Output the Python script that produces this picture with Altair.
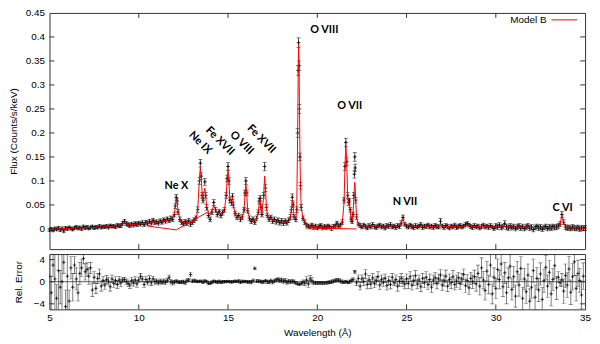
import altair as alt
import pandas as pd

# ---------------- top panel: flux spectrum (data + model) ----------------
WL_A = [5.0, 5.1, 5.2, 5.3, 5.4, 5.5, 5.6, 5.7, 5.8, 5.9,
        6.0, 6.1, 6.2, 6.3, 6.4, 6.5, 6.6, 6.7, 6.8, 6.9,
        7.0, 7.1, 7.2, 7.3, 7.4, 7.5, 7.6, 7.7, 7.8, 7.9,
        8.0, 8.1, 8.2, 8.3, 8.4, 8.5, 8.6, 8.7, 8.8, 8.9,
        9.0, 9.1, 9.2, 9.3, 9.4, 9.5, 9.6, 9.7, 9.8, 9.9,
        10.0, 10.1, 10.2, 10.3, 10.4, 10.5, 10.6, 10.7, 10.8, 10.9,
        11.0, 11.1, 11.2, 11.3, 11.4, 11.5, 11.6, 11.7, 11.8, 11.9]
FLUX_A = [-0.002, 0.000, -0.003, 0.001, -0.001, 0.002, -0.002, 0.001, -0.004, 0.002,
          0.000, 0.003, 0.001, -0.001, 0.002, 0.004, 0.001, 0.003, 0.000, 0.005,
          0.002, 0.004, 0.001, 0.003, 0.005, 0.002, 0.004, 0.003, 0.006, 0.003,
          0.005, 0.004, 0.006, 0.003, 0.007, 0.005, 0.006, 0.004, 0.008, 0.006,
          0.007, 0.012, 0.016, 0.011, 0.009, 0.007, 0.010, 0.008, 0.011, 0.009,
          0.012, 0.010, 0.013, 0.009, 0.014, 0.011, 0.016, 0.012, 0.018, 0.013,
          0.015, 0.012, 0.017, 0.014, 0.019, 0.016, 0.021, 0.017, 0.022, 0.020]
MODEL_A = [-0.001, -0.001, -0.001, 0.000, 0.000, 0.000, 0.000, 0.001, 0.001, 0.001,
           0.001, 0.001, 0.001, 0.002, 0.002, 0.002, 0.002, 0.002, 0.002, 0.002,
           0.002, 0.003, 0.003, 0.003, 0.003, 0.003, 0.003, 0.004, 0.004, 0.004,
           0.004, 0.004, 0.005, 0.005, 0.005, 0.005, 0.006, 0.006, 0.006, 0.007,
           0.008, 0.011, 0.014, 0.011, 0.009, 0.009, 0.009, 0.009, 0.010, 0.010,
           0.010, 0.011, 0.011, 0.011, 0.012, 0.012, 0.012, 0.013, 0.013, 0.014,
           0.014, 0.015, 0.016, 0.016, 0.017, 0.018, 0.018, 0.019, 0.021, 0.024]
ERR_A = [0.003, 0.003, 0.003, 0.003, 0.003, 0.003, 0.003, 0.003, 0.004, 0.003,
         0.003, 0.003, 0.003, 0.003, 0.003, 0.003, 0.003, 0.003, 0.003, 0.003,
         0.003, 0.003, 0.003, 0.003, 0.003, 0.003, 0.003, 0.003, 0.003, 0.003,
         0.003, 0.003, 0.003, 0.003, 0.003, 0.003, 0.003, 0.003, 0.003, 0.003,
         0.004, 0.004, 0.004, 0.004, 0.004, 0.004, 0.004, 0.004, 0.004, 0.004,
         0.004, 0.004, 0.004, 0.004, 0.004, 0.004, 0.004, 0.004, 0.004, 0.004,
         0.004, 0.004, 0.004, 0.004, 0.004, 0.004, 0.004, 0.004, 0.005, 0.005]

WL_B = [12.0, 12.05, 12.1, 12.15, 12.2, 12.3, 12.4, 12.5, 12.6, 12.7,
        12.8, 12.9, 13.0, 13.1, 13.2, 13.3, 13.4, 13.45, 13.5, 13.55,
        13.6, 13.7, 13.75, 13.8, 13.9, 14.0, 14.1, 14.2, 14.3, 14.4,
        14.5, 14.6, 14.7, 14.8, 14.9, 14.95, 15.0, 15.05, 15.1, 15.2,
        15.25, 15.3, 15.4, 15.5, 15.6, 15.7, 15.8, 15.9, 15.95, 16.0,
        16.05, 16.1, 16.2, 16.3, 16.4, 16.5, 16.6, 16.7, 16.75, 16.8,
        16.85, 16.9, 17.0, 17.05, 17.1, 17.15, 17.2, 17.3, 17.4, 17.5,
        17.6, 17.7, 17.8, 17.9, 18.0, 18.1, 18.2, 18.3, 18.4, 18.5,
        18.55, 18.6, 18.65, 18.7, 18.8, 18.85, 18.9, 18.93, 18.95, 18.98,
        19.0, 19.03, 19.06, 19.1, 19.2, 19.3, 19.4]
FLUX_B = [0.030, 0.048, 0.066, 0.058, 0.035, 0.020, 0.014, 0.011, 0.015, 0.012,
          0.017, 0.010, 0.014, 0.018, 0.022, 0.040, 0.100, 0.137, 0.110, 0.070,
          0.060, 0.098, 0.070, 0.045, 0.028, 0.020, 0.035, 0.055, 0.040, 0.030,
          0.036, 0.028, 0.034, 0.040, 0.070, 0.105, 0.130, 0.100, 0.060, 0.055,
          0.068, 0.050, 0.032, 0.024, 0.028, 0.020, 0.025, 0.040, 0.075, 0.100,
          0.075, 0.038, 0.022, 0.016, 0.020, 0.014, 0.022, 0.035, 0.058, 0.064,
          0.045, 0.030, 0.070, 0.130, 0.085, 0.045, 0.028, 0.020, 0.024, 0.016,
          0.020, 0.015, 0.018, 0.013, 0.017, 0.012, 0.016, 0.013, 0.018, 0.025,
          0.040, 0.066, 0.050, 0.025, 0.020, 0.040, 0.200, 0.330, 0.388, 0.340,
          0.250, 0.150, 0.090, 0.045, 0.022, 0.014, 0.008]
MODEL_B = [0.032, 0.050, 0.062, 0.060, 0.038, 0.020, 0.014, 0.013, 0.013, 0.014,
           0.014, 0.013, 0.013, 0.015, 0.020, 0.040, 0.105, 0.128, 0.105, 0.075,
           0.065, 0.085, 0.070, 0.048, 0.035, 0.030, 0.038, 0.050, 0.040, 0.033,
           0.032, 0.031, 0.033, 0.040, 0.070, 0.105, 0.125, 0.100, 0.060, 0.058,
           0.066, 0.050, 0.030, 0.025, 0.024, 0.022, 0.024, 0.040, 0.070, 0.095,
           0.072, 0.040, 0.022, 0.018, 0.017, 0.017, 0.020, 0.035, 0.055, 0.060,
           0.042, 0.032, 0.070, 0.110, 0.085, 0.045, 0.030, 0.022, 0.020, 0.018,
           0.017, 0.016, 0.016, 0.015, 0.015, 0.014, 0.014, 0.014, 0.016, 0.025,
           0.040, 0.060, 0.048, 0.025, 0.022, 0.040, 0.200, 0.320, 0.385, 0.340,
           0.260, 0.150, 0.090, 0.045, 0.022, 0.013, 0.009]
ERR_B = [0.005, 0.005, 0.006, 0.006, 0.005, 0.005, 0.005, 0.005, 0.005, 0.005,
         0.005, 0.005, 0.005, 0.005, 0.005, 0.006, 0.007, 0.008, 0.007, 0.006,
         0.006, 0.007, 0.006, 0.006, 0.005, 0.005, 0.005, 0.006, 0.005, 0.005,
         0.005, 0.005, 0.005, 0.005, 0.006, 0.007, 0.008, 0.007, 0.006, 0.006,
         0.006, 0.006, 0.005, 0.005, 0.005, 0.005, 0.005, 0.005, 0.006, 0.007,
         0.006, 0.005, 0.005, 0.005, 0.005, 0.005, 0.005, 0.005, 0.006, 0.006,
         0.006, 0.005, 0.006, 0.009, 0.007, 0.006, 0.005, 0.005, 0.005, 0.005,
         0.005, 0.005, 0.005, 0.005, 0.005, 0.005, 0.005, 0.005, 0.005, 0.005,
         0.006, 0.007, 0.006, 0.005, 0.005, 0.006, 0.009, 0.010, 0.010, 0.010,
         0.009, 0.008, 0.007, 0.006, 0.005, 0.005, 0.004]

WL_C = [19.5, 19.6, 19.7, 19.8, 19.9, 20.0, 20.1, 20.2, 20.3, 20.4,
        20.5, 20.6, 20.7, 20.8, 20.9, 21.0, 21.1, 21.2, 21.3, 21.4,
        21.5, 21.55, 21.6, 21.65, 21.7, 21.75, 21.8, 21.85, 21.9, 21.95,
        22.0, 22.05, 22.08, 22.1, 22.12, 22.15, 22.2, 22.3, 22.4]
FLUX_C = [0.006, 0.004, 0.008, 0.003, 0.006, 0.002, 0.005, 0.007, 0.002, 0.005,
          0.003, 0.006, 0.004, 0.001, 0.005, 0.006, 0.012, 0.006, 0.008, 0.014,
          0.060, 0.130, 0.180, 0.140, 0.070, 0.055, 0.058, 0.040, 0.020, 0.016,
          0.030, 0.070, 0.114, 0.150, 0.127, 0.060, 0.025, 0.010, 0.007]
MODEL_C = [0.007, 0.006, 0.005, 0.005, 0.005, 0.004, 0.004, 0.004, 0.004, 0.004,
           0.004, 0.004, 0.004, 0.004, 0.004, 0.005, 0.005, 0.006, 0.007, 0.012,
           0.055, 0.130, 0.175, 0.140, 0.070, 0.050, 0.052, 0.035, 0.018, 0.017,
           0.030, 0.068, 0.090, 0.097, 0.090, 0.060, 0.025, 0.010, 0.007]
ERR_C = [0.004, 0.004, 0.004, 0.004, 0.004, 0.004, 0.004, 0.004, 0.004, 0.004,
         0.004, 0.004, 0.004, 0.004, 0.004, 0.004, 0.004, 0.004, 0.004, 0.005,
         0.006, 0.008, 0.009, 0.008, 0.006, 0.006, 0.006, 0.005, 0.005, 0.005,
         0.005, 0.006, 0.008, 0.009, 0.008, 0.006, 0.005, 0.004, 0.004]

WL_D = [22.5, 22.6, 22.7, 22.8, 22.9, 23.0, 23.1, 23.2, 23.3, 23.4,
        23.5, 23.6, 23.7, 23.8, 23.9, 24.0, 24.1, 24.2, 24.3, 24.4,
        24.5, 24.6, 24.7, 24.8, 24.9, 25.0, 25.1, 25.2, 25.3, 25.4,
        25.5, 25.6, 25.7, 25.8, 25.9, 26.0, 26.1, 26.2, 26.3, 26.4,
        26.5, 26.6, 26.7, 26.8, 26.9, 27.0, 27.1, 27.2, 27.3, 27.4,
        27.5, 27.6, 27.7, 27.8, 27.9, 28.0, 28.1, 28.2, 28.3, 28.4,
        28.5, 28.6, 28.7, 28.8, 28.9, 29.0, 29.1, 29.2, 29.3, 29.4,
        29.5, 29.6, 29.7, 29.8, 29.9, 30.0, 30.1, 30.2, 30.3, 30.4,
        30.5, 30.6, 30.7, 30.8, 30.9, 31.0, 31.1, 31.2, 31.3, 31.4,
        31.5, 31.6, 31.7, 31.8, 31.9, 32.0, 32.1, 32.2, 32.3, 32.4,
        32.5, 32.6, 32.7, 32.8, 32.9, 33.0, 33.1, 33.2, 33.3, 33.4,
        33.5, 33.6, 33.7, 33.8, 33.9, 34.0, 34.1, 34.2, 34.3, 34.4,
        34.5, 34.6, 34.7, 34.8, 34.9, 35.0]
FLUX_D = [0.004, 0.008, 0.005, 0.002, 0.007, 0.004, 0.009, 0.005, 0.003, 0.006,
          0.008, 0.004, 0.006, 0.002, 0.007, 0.005, 0.009, 0.004, 0.006, 0.003,
          0.007, 0.005, 0.012, 0.024, 0.010, 0.006, 0.004, 0.008, 0.005, 0.003,
          0.007, 0.004, 0.006, 0.009, 0.003, 0.006, 0.005, 0.008, 0.004, 0.006,
          0.003, 0.007, 0.005, 0.004, 0.016, 0.006, 0.003, 0.007, 0.005, 0.002,
          0.006, 0.004, 0.008, 0.003, 0.005, 0.007, 0.004, 0.006, 0.009, 0.011,
          0.008, 0.005, 0.003, 0.007, 0.004, 0.006, 0.002, 0.005, 0.008, 0.004,
          0.006, 0.003, 0.007, 0.004, 0.001, 0.006, 0.004, 0.008, 0.003, 0.005,
          0.011, 0.004, 0.002, 0.006, 0.003, 0.005, 0.001, 0.004, 0.006, 0.002,
          0.005, 0.001, 0.004, 0.006, 0.002, 0.004, -0.001, 0.003, 0.005, 0.002,
          0.004, 0.000, 0.003, 0.005, 0.001, 0.004, 0.002, 0.005, 0.003, 0.004,
          0.006, 0.010, 0.030, 0.014, 0.004, 0.002, 0.003, 0.001, 0.004, 0.002,
          0.001, 0.003, 0.000, 0.002, 0.001, 0.002]
MODEL_D = [0.006, 0.006, 0.006, 0.006, 0.006, 0.006, 0.006, 0.006, 0.006, 0.006,
           0.006, 0.006, 0.006, 0.006, 0.006, 0.006, 0.006, 0.006, 0.006, 0.006,
           0.006, 0.007, 0.012, 0.022, 0.009, 0.006, 0.006, 0.006, 0.006, 0.006,
           0.006, 0.006, 0.006, 0.006, 0.006, 0.006, 0.005, 0.005, 0.005, 0.005,
           0.005, 0.005, 0.005, 0.006, 0.007, 0.006, 0.005, 0.005, 0.005, 0.005,
           0.005, 0.005, 0.005, 0.005, 0.005, 0.005, 0.005, 0.006, 0.007, 0.009,
           0.007, 0.005, 0.005, 0.005, 0.005, 0.005, 0.005, 0.005, 0.005, 0.005,
           0.005, 0.005, 0.004, 0.004, 0.004, 0.004, 0.004, 0.004, 0.004, 0.004,
           0.005, 0.004, 0.004, 0.004, 0.004, 0.004, 0.004, 0.004, 0.004, 0.004,
           0.004, 0.004, 0.004, 0.004, 0.003, 0.003, 0.003, 0.003, 0.003, 0.003,
           0.003, 0.003, 0.003, 0.003, 0.003, 0.003, 0.003, 0.003, 0.003, 0.003,
           0.004, 0.009, 0.029, 0.013, 0.004, 0.003, 0.002, 0.002, 0.002, 0.002,
           0.002, 0.002, 0.002, 0.001, 0.001, 0.001]
ERR_D = [0.004, 0.004, 0.004, 0.004, 0.004, 0.004, 0.004, 0.004, 0.004, 0.004,
         0.004, 0.004, 0.004, 0.004, 0.004, 0.004, 0.004, 0.004, 0.004, 0.004,
         0.004, 0.004, 0.005, 0.005, 0.004, 0.004, 0.004, 0.004, 0.004, 0.004,
         0.004, 0.004, 0.004, 0.004, 0.004, 0.004, 0.004, 0.004, 0.004, 0.004,
         0.004, 0.004, 0.004, 0.004, 0.006, 0.004, 0.004, 0.004, 0.004, 0.004,
         0.004, 0.004, 0.004, 0.004, 0.004, 0.004, 0.004, 0.004, 0.004, 0.004,
         0.004, 0.004, 0.004, 0.004, 0.004, 0.004, 0.004, 0.004, 0.004, 0.004,
         0.004, 0.004, 0.004, 0.004, 0.004, 0.005, 0.005, 0.005, 0.005, 0.005,
         0.006, 0.005, 0.005, 0.005, 0.005, 0.005, 0.005, 0.005, 0.005, 0.005,
         0.005, 0.005, 0.005, 0.005, 0.005, 0.005, 0.005, 0.005, 0.005, 0.005,
         0.005, 0.005, 0.005, 0.005, 0.005, 0.005, 0.005, 0.005, 0.005, 0.005,
         0.005, 0.005, 0.006, 0.005, 0.005, 0.005, 0.005, 0.005, 0.005, 0.005,
         0.005, 0.005, 0.005, 0.005, 0.005, 0.005]

# model drawn across detector gaps (straight connecting segments)
GAP_SEG = ["a", "a", "a", "b", "b"]
GAP_WL = [10.5, 12.1, 13.9, 19.35, 22.2]
GAP_FLUX = [0.006, -0.002, 0.036, 0.002, 0.000]

# line labels
ANN_H_TEXT = ["Ne X", "O VIII", "O VII", "N VII", "C VI"]
ANN_H_WL = [12.11, 20.39, 21.82, 24.91, 33.74]
ANN_H_FLUX = [0.090, 0.414, 0.257, 0.056, 0.044]
ANN_R_TEXT = ["Ne IX", "Fe XVII", "O VIII", "Fe XVII"]
ANN_R_WL = [13.44, 14.54, 15.76, 16.86]
ANN_R_FLUX = [0.179, 0.183, 0.179, 0.187]

Y_TICKS_TOP = [0, 0.05, 0.1, 0.15, 0.2, 0.25, 0.3, 0.35, 0.4, 0.45]
X_TICKS = [5, 10, 15, 20, 25, 30, 35]
X_INNER_TICKS = [10, 15, 20, 25, 30]

# ---------------- bottom panel: relative error ----------------
REL_WL = [5.0, 5.1, 5.2, 5.3, 5.4, 5.5, 5.6, 5.7, 5.8, 5.9,
          6.0, 6.1, 6.2, 6.3, 6.4, 6.5, 6.6, 6.7, 6.8, 6.9,
          7.0, 7.1, 7.2, 7.3, 7.4, 7.5, 7.6, 7.7, 7.8, 7.9,
          8.0, 8.1, 8.2, 8.3, 8.4, 8.5, 8.6, 8.7, 8.8, 8.9,
          9.0, 9.1, 9.2, 9.3, 9.4, 9.5, 9.6, 9.7, 9.8, 9.9,
          10.0, 10.1, 10.2, 10.3, 10.4, 10.5, 10.6, 10.7, 10.8, 10.9,
          11.0, 11.1, 11.2, 11.3, 11.4, 11.5, 11.6, 11.7, 11.8, 11.9,
          12.0, 12.1, 12.2, 12.3, 12.4, 12.5, 12.6, 12.7, 12.8, 12.9,
          13.0, 13.1, 13.2, 13.3, 13.4, 13.5, 13.6, 13.7, 13.8, 13.9,
          14.0, 14.1, 14.2, 14.3, 14.4, 14.5, 14.6, 14.7, 14.8, 14.9,
          15.0, 15.1, 15.2, 15.3, 15.4, 15.5, 15.6, 15.7, 15.8, 15.9,
          16.0, 16.1, 16.2, 16.3, 16.4, 16.5, 16.6, 16.7, 16.8, 16.9,
          17.0, 17.1, 17.2, 17.3, 17.4, 17.5, 17.6, 17.7, 17.8, 17.9,
          18.0, 18.1, 18.2, 18.3, 18.4, 18.5, 18.6, 18.7, 18.8, 18.9,
          19.0, 19.1, 19.2, 19.3, 19.4, 19.5, 19.6, 19.7, 19.8, 19.9,
          20.0, 20.1, 20.2, 20.3, 20.4, 20.5, 20.6, 20.7, 20.8, 20.9,
          21.0, 21.1, 21.2, 21.3, 21.4, 21.5, 21.6, 21.7, 21.8, 21.9,
          22.0, 22.1, 22.2, 22.3, 22.4, 22.5, 22.6, 22.7, 22.8, 22.9,
          23.0, 23.1, 23.2, 23.3, 23.4, 23.5, 23.6, 23.7, 23.8, 23.9,
          24.0, 24.1, 24.2, 24.3, 24.4, 24.5, 24.6, 24.7, 24.8, 24.9,
          25.0, 25.1, 25.2, 25.3, 25.4, 25.5, 25.6, 25.7, 25.8, 25.9,
          26.0, 26.1, 26.2, 26.3, 26.4, 26.5, 26.6, 26.7, 26.8, 26.9,
          27.0, 27.1, 27.2, 27.3, 27.4, 27.5, 27.6, 27.7, 27.8, 27.9,
          28.0, 28.1, 28.2, 28.3, 28.4, 28.5, 28.6, 28.7, 28.8, 28.9,
          29.0, 29.1, 29.2, 29.3, 29.4, 29.5, 29.6, 29.7, 29.8, 29.9,
          30.0, 30.1, 30.2, 30.3, 30.4, 30.5, 30.6, 30.7, 30.8, 30.9,
          31.0, 31.1, 31.2, 31.3, 31.4, 31.5, 31.6, 31.7, 31.8, 31.9,
          32.0, 32.1, 32.2, 32.3, 32.4, 32.5, 32.6, 32.7, 32.8, 32.9,
          33.0, 33.1, 33.2, 33.3, 33.4, 33.5, 33.6, 33.7, 33.8, 33.9,
          34.0, 34.1, 34.2, 34.3, 34.4, 34.5, 34.6, 34.7, 34.8, 34.9]
REL = [1.0, -2.0, 3.0, 0.5, -3.0, 2.0, -1.0, 0.0, 3.5, -4.5,
       1.0, -3.5, 2.5, -1.0, 3.0, 0.5, -2.0, 1.5, 2.5, 4.2,
       1.8, 2.2, 1.0, 2.5, -1.5, 0.8, -1.2, 0.6, 1.4, -0.8,
       0.2, -0.6, 0.4, 0.1, -0.9, 0.5, -0.3, 0.2, -0.5, 0.3,
       -0.2, 0.3, 0.4, 0.0, -0.3, -0.6, 0.2, -0.2, 0.3, -0.4,
       0.3, 1.0, 0.5, -0.5, 0.4, -0.1, 0.6, -0.2, 0.5, 0.0,
       0.1, -0.2, 0.1, -0.1, 0.1, -0.1, 0.2, 0.8, 0.0, -0.2,
       -0.1, 0.1, -0.05, -0.1, -0.05, 0.0, -0.2, 0.2, 0.3, 1.3,
       0.1, 0.2, 0.1, 0.0, 0.07, 0.1, -0.1, 0.15, 0.0, -0.3,
       -0.3, -0.1, 0.1, 0.0, -0.1, 0.05, -0.1, 0.0, 0.0, 0.0,
       0.04, 0.0, -0.05, 0.0, 0.1, 0.0, 0.15, -0.1, 0.05, 0.0,
       0.05, -0.05, 0.0, -0.1, 0.2, 2.4, 0.1, 0.1, 0.05, -0.06,
       0.0, 0.2, 0.0, -0.05, 0.2, -0.1, 0.15, 0.3, 0.4, 0.2,
       0.3, 0.1, 0.2, -0.1, 0.1, 0.0, 0.1, 0.0, -0.2, -0.4,
       -0.5, -0.3, -0.1, -0.2, 0.3, -0.4, 0.5, 0.2, -0.2, -0.2,
       -0.25, -0.2, -0.2, -0.25, -0.2, -0.2, -0.15, -0.1, 0.0, 0.1,
       0.2, 0.3, 0.25, 0.1, 0.0, -0.1, 0.05, -0.15, 0.0, 0.2,
       0.4, 1.8, -0.2, 0.6, -0.8, 0.5, 0.0, 1.4, -0.5, 0.3,
       -0.4, 0.7, -0.3, 0.2, 0.9, -0.6, 0.4, -0.1, 0.6, -0.7,
       0.2, -0.5, 0.8, -0.2, 0.4, -0.8, 0.1, 0.6, 0.0, -0.4,
       0.5, -0.3, 0.9, -0.6, 0.2, 1.1, -0.4, 0.3, -0.9, 0.6,
       -0.2, 0.8, -0.5, 0.4, -1.0, 0.3, 0.7, -0.3, 0.5, 1.2,
       -0.6, 0.2, 1.0, -0.8, 0.4, -0.2, 0.9, -0.5, 0.1, 0.7,
       -0.3, 0.5, 1.3, -0.7, 0.2, -1.1, 0.6, 0.0, 0.9, -0.4,
       1.5, -0.8, 2.5, 0.3, -1.6, 1.9, -0.5, 3.0, -2.2, 0.8,
       -1.2, 2.2, 0.4, 3.2, -0.9, 1.6, -2.0, 0.7, 2.8, -1.4,
       0.9, -2.6, 1.8, -0.6, 2.4, -3.0, 0.5, -1.8, 1.2, -3.5,
       -1.0, 2.0, -2.8, 0.6, -1.5, 1.4, -3.2, 0.2, 2.6, -0.8,
       1.7, -2.2, 0.4, 2.9, -1.1, 0.8, -0.2, 0.3, -1.7, 1.1,
       -0.6, 2.3, -1.9, 0.9, 3.6, -1.2, 1.5, 0.2, -2.4, 1.0]
REL_ERR = [8, 3, 2, 9, 2.5, 8, 3, 9, 2, 3,
           6, 2, 2, 2.5, 1.5, 2, 1.5, 2, 1.5, 1.0,
           1.5, 1.2, 1.5, 1.0, 1.2, 1.0, 0.9, 0.9, 0.9, 0.9,
           0.8, 0.8, 0.7, 0.7, 0.8, 0.7, 0.7, 0.7, 0.7, 0.7,
           0.7, 0.5, 0.4, 0.5, 0.6, 0.6, 0.6, 0.6, 0.6, 0.6,
           0.5, 0.5, 0.5, 0.5, 0.5, 0.5, 0.5, 0.5, 0.5, 0.5,
           0.4, 0.4, 0.4, 0.4, 0.4, 0.4, 0.4, 0.4, 0.4, 0.4,
           0.3, 0.25, 0.2, 0.25, 0.3, 0.3, 0.3, 0.3, 0.3, 0.35,
           0.3, 0.3, 0.25, 0.2, 0.15, 0.2, 0.2, 0.2, 0.2, 0.25,
           0.25, 0.25, 0.2, 0.2, 0.25, 0.25, 0.25, 0.25, 0.2, 0.2,
           0.15, 0.15, 0.2, 0.2, 0.2, 0.2, 0.25, 0.25, 0.25, 0.2,
           0.15, 0.2, 0.25, 0.3, 0.3, 0.25, 0.3, 0.25, 0.25, 0.3,
           0.25, 0.2, 0.3, 0.3, 0.3, 0.3, 0.3, 0.3, 0.35, 0.35,
           0.35, 0.35, 0.35, 0.35, 0.35, 0.3, 0.3, 0.3, 0.25, 0.2,
           0.15, 0.3, 0.4, 0.5, 0.6, 0.6, 0.6, 0.6, 0.3, 0.25,
           0.25, 0.25, 0.25, 0.25, 0.25, 0.25, 0.25, 0.25, 0.3, 0.3,
           0.3, 0.3, 0.3, 0.3, 0.3, 0.2, 0.15, 0.2, 0.3, 0.3,
           0.3, 0.25, 0.5, 0.6, 0.7, 0.7, 0.7, 0.8, 0.8, 0.8,
           0.8, 0.8, 0.8, 0.8, 0.9, 0.8, 0.8, 0.8, 0.8, 0.8,
           0.8, 0.8, 0.7, 0.5, 0.8, 0.9, 0.9, 0.9, 0.9, 0.9,
           0.9, 0.9, 0.9, 0.9, 0.9, 0.9, 0.9, 0.9, 0.9, 0.9,
           0.9, 1.0, 0.9, 1.0, 1.0, 0.9, 1.0, 1.0, 0.9, 1.0,
           1.0, 1.0, 1.1, 1.0, 1.0, 1.0, 1.1, 1.0, 1.1, 1.0,
           1.1, 1.0, 1.0, 1.2, 1.1, 1.2, 1.1, 1.2, 1.2, 1.3,
           1.5, 1.6, 1.8, 1.6, 1.7, 1.8, 1.7, 2.0, 1.8, 1.7,
           1.8, 1.9, 1.7, 2.0, 1.8, 1.9, 2.0, 1.8, 2.1, 1.9,
           1.9, 2.0, 1.9, 2.0, 2.1, 2.0, 1.9, 2.1, 2.0, 2.2,
           2.0, 2.1, 2.2, 2.0, 2.1, 2.0, 2.2, 2.1, 2.2, 2.0,
           2.1, 2.2, 2.0, 2.3, 2.1, 1.0, 0.6, 1.2, 2.2, 2.1,
           2.2, 2.3, 2.2, 2.4, 2.5, 2.3, 2.4, 2.2, 2.5, 2.4]
Y_TICKS_REL = [-4, 0, 4]

# ---------------- build tables ----------------
top_df = pd.DataFrame({
    "wl": WL_A + WL_B + WL_C + WL_D,
    "flux": FLUX_A + FLUX_B + FLUX_C + FLUX_D,
    "err": ERR_A + ERR_B + ERR_C + ERR_D,
    "model": MODEL_A + MODEL_B + MODEL_C + MODEL_D,
})
top_df["lo"] = top_df["flux"] - top_df["err"]
top_df["hi"] = top_df["flux"] + top_df["err"]

gap_df = pd.DataFrame({"seg": GAP_SEG, "wl": GAP_WL, "f": GAP_FLUX, "i": list(range(len(GAP_WL)))})
annh_df = pd.DataFrame({"t": ANN_H_TEXT, "wl": ANN_H_WL, "f": ANN_H_FLUX})
annr_df = pd.DataFrame({"t": ANN_R_TEXT, "wl": ANN_R_WL, "f": ANN_R_FLUX})

rel_df = pd.DataFrame({"wl": REL_WL, "r": REL, "e": REL_ERR})
rel_df["lo"] = rel_df["r"] - rel_df["e"]
rel_df["hi"] = rel_df["r"] + rel_df["e"]

W = 542
H_TOP = 239
H_BOT = 56
FONT = "Liberation Sans"
LABFONT = "Lato"
PLUS = "M-1,0L1,0M0,-1L0,1"

XSCALE = alt.Scale(domain=[5, 35], nice=False, zero=False)
YSCALE_TOP = alt.Scale(domain=[-0.042, 0.45], nice=False, zero=False)
YSCALE_REL = alt.Scale(domain=[-5, 5], nice=False, zero=False)

AXIS_Y_TOP = alt.Axis(values=Y_TICKS_TOP, format="~g", title="Flux (Counts/s/keV)",
                      ticks=False, domain=False, grid=False, labelPadding=5, titlePadding=7)
AXIS_Y_REL = alt.Axis(values=Y_TICKS_REL, format="d", title="Rel. Error",
                      ticks=False, domain=False, grid=False, labelPadding=5, titlePadding=10)
AXIS_X_BOT = alt.Axis(values=X_TICKS, format="d", title="Wavelength (Å)", ticks=False,
                      domain=False, grid=False, labelPadding=3, titlePadding=5,
                      labelFlush=False)


def xt(field):
    return alt.X(field, scale=XSCALE, axis=None)


def xb(field):
    return alt.X(field, scale=XSCALE, axis=AXIS_X_BOT)


def yt(field):
    return alt.Y(field, scale=YSCALE_TOP, axis=AXIS_Y_TOP)


def yr(field):
    return alt.Y(field, scale=YSCALE_REL, axis=AXIS_Y_REL)


# ---- top layers ----
tb = alt.Chart(top_df)
top_err = tb.mark_rule(color="black", strokeWidth=0.7).encode(x=xt("wl:Q"), y=yt("lo:Q"), y2="hi:Q")
top_cap_lo = tb.mark_tick(orient="horizontal", size=4, thickness=0.7, color="black").encode(
    x=xt("wl:Q"), y=yt("lo:Q"))
top_cap_hi = tb.mark_tick(orient="horizontal", size=4, thickness=0.7, color="black").encode(
    x=xt("wl:Q"), y=yt("hi:Q"))
top_pts = tb.mark_point(shape=PLUS, size=14, filled=False, strokeWidth=0.8, color="black",
                        opacity=1).encode(x=xt("wl:Q"), y=yt("flux:Q"))
top_model = tb.mark_line(color="#ff0000", strokeWidth=1).encode(x=xt("wl:Q"), y=yt("model:Q"))
top_gap = alt.Chart(gap_df).mark_line(color="#ff0000", strokeWidth=1).encode(
    x=xt("wl:Q"), y=yt("f:Q"), detail="seg:N", order="i:Q")
top_ann_h = alt.Chart(annh_df).mark_text(font=LABFONT, fontWeight="bold", fontSize=11,
                                         color="black", baseline="middle", align="center").encode(
    x=xt("wl:Q"), y=yt("f:Q"), text="t:N")
top_ann_r = alt.Chart(annr_df).mark_text(font=LABFONT, fontWeight="bold", fontSize=11,
                                         color="black", baseline="middle", align="center",
                                         angle=45).encode(
    x=xt("wl:Q"), y=yt("f:Q"), text="t:N")

xtick_df = pd.DataFrame({"v": X_INNER_TICKS})
ytick_top_df = pd.DataFrame({"v": Y_TICKS_TOP[1:-1]})
tk = dict(color="#333", strokeWidth=1)
top_xt1 = alt.Chart(xtick_df).mark_rule(**tk).encode(x=xt("v:Q"), y=alt.value(0), y2=alt.value(5))
top_xt2 = alt.Chart(xtick_df).mark_rule(**tk).encode(x=xt("v:Q"), y=alt.value(H_TOP - 5), y2=alt.value(H_TOP))
top_yt1 = alt.Chart(ytick_top_df).mark_rule(**tk).encode(y=yt("v:Q"), x=alt.value(0), x2=alt.value(5))
top_yt2 = alt.Chart(ytick_top_df).mark_rule(**tk).encode(y=yt("v:Q"), x=alt.value(W - 5), x2=alt.value(W))

leg_df = pd.DataFrame({"t": ["Model B"]})
leg_txt = alt.Chart(leg_df).mark_text(font=FONT, fontSize=10, color="black", align="right",
                                      baseline="middle").encode(
    x=alt.value(503), y=alt.value(7), text="t:N")
leg_line = alt.Chart(leg_df).mark_rule(color="#ff0000", strokeWidth=1).encode(
    x=alt.value(508), x2=alt.value(534), y=alt.value(7))

top = alt.layer(top_err, top_cap_lo, top_cap_hi, top_pts, top_model, top_gap,
                top_ann_h, top_ann_r, top_xt1, top_xt2, top_yt1, top_yt2,
                leg_txt, leg_line).properties(width=W, height=H_TOP)

# ---- bottom layers ----
rb = alt.Chart(rel_df)
GRAY = "#2a2a2a"
rel_err = rb.mark_rule(color=GRAY, strokeWidth=0.6, clip=True).encode(
    x=xb("wl:Q"), y=yr("lo:Q"), y2="hi:Q")
rel_cap_lo = rb.mark_tick(orient="horizontal", size=4, thickness=0.6, color=GRAY, clip=True).encode(
    x=xb("wl:Q"), y=yr("lo:Q"))
rel_cap_hi = rb.mark_tick(orient="horizontal", size=4, thickness=0.6, color=GRAY, clip=True).encode(
    x=xb("wl:Q"), y=yr("hi:Q"))
rel_pts = rb.mark_point(shape=PLUS, size=12, filled=False, strokeWidth=0.7, color="black",
                        clip=True, opacity=1).encode(x=xb("wl:Q"), y=yr("r:Q"))
zero_df = pd.DataFrame({"z": [0]})
rel_zero = alt.Chart(zero_df).mark_rule(color="#333", strokeWidth=0.8).encode(y=yr("z:Q"))
ytick_rel_df = pd.DataFrame({"v": Y_TICKS_REL})
rel_xt1 = alt.Chart(xtick_df).mark_rule(**tk).encode(x=xb("v:Q"), y=alt.value(0), y2=alt.value(5))
rel_xt2 = alt.Chart(xtick_df).mark_rule(**tk).encode(x=xb("v:Q"), y=alt.value(H_BOT - 5), y2=alt.value(H_BOT))
rel_yt1 = alt.Chart(ytick_rel_df).mark_rule(**tk).encode(y=yr("v:Q"), x=alt.value(0), x2=alt.value(5))
rel_yt2 = alt.Chart(ytick_rel_df).mark_rule(**tk).encode(y=yr("v:Q"), x=alt.value(W - 5), x2=alt.value(W))

bottom = alt.layer(rel_zero, rel_err, rel_cap_lo, rel_cap_hi, rel_pts,
                   rel_xt1, rel_xt2, rel_yt1, rel_yt2).properties(width=W, height=H_BOT)

chart = alt.vconcat(top, bottom, spacing=3).properties(
    padding={"left": 0, "top": -3, "right": 0, "bottom": 0},
    background="white",
).configure_view(stroke="#333", strokeWidth=1).configure_axis(
    labelFont=FONT, titleFont=FONT, labelFontSize=10, titleFontSize=10,
    labelColor="black", titleColor="black", titleFontWeight="normal",
)

chart.save("out.html", embed_options={"renderer": "svg", "actions": False})
